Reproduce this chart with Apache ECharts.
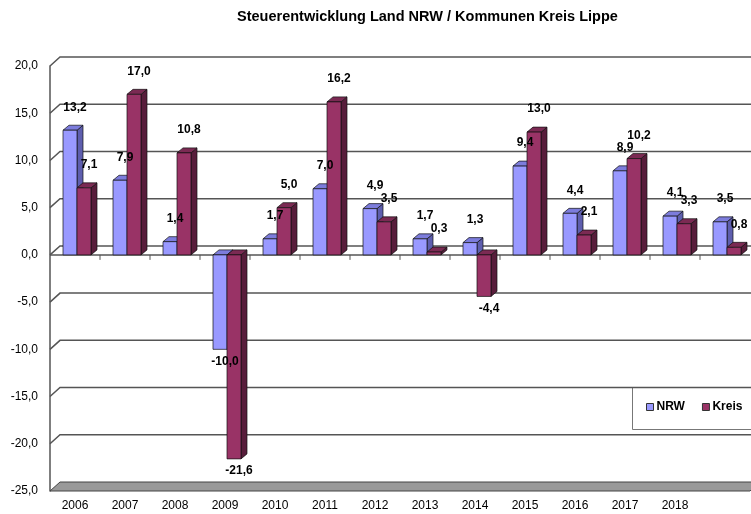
<!DOCTYPE html>
<html>
<head>
<meta charset="utf-8">
<script src="https://cdn.jsdelivr.net/npm/echarts@6/dist/echarts.min.js"></script>
<style>
  html, body { margin: 0; padding: 0; background: #fff; }
  #chart { width: 751px; height: 514px; }
</style>
</head>
<body>
<div id="chart"></div>
<script>
// data
const years = ['2006', '2007', '2008', '2009', '2010', '2011', '2012', '2013', '2014', '2015', '2016', '2017', '2018', ''];
const nrw   = [13.2, 7.9, 1.4, -10.0, 1.7, 7.0, 4.9, 1.7, 1.3, 9.4, 4.4, 8.9, 4.1, 3.5];
const kreis = [7.1, 17.0, 10.8, -21.6, 5.0, 16.2, 3.5, 0.3, -4.4, 13.0, 2.1, 10.2, 3.3, 0.8];
const yTicks = [-25, -20, -15, -10, -5, 0, 5, 10, 15, 20];

const DX = 10, DY = -9;   // depth of the wall
const BDX = 6, BDY = -5;  // depth of a bar
const FONT = '"Liberation Sans", Arial, sans-serif';
const fmt = v => v.toFixed(1).replace('.', ',');

const faces = [
  { front: '#9999FF', top: '#7C7CDC', side: '#5E5EAE' },
  { front: '#993366', top: '#7B2A53', side: '#581D3B' }
];

const chart = echarts.init(document.getElementById('chart'));

// back wall gridlines, floor and the front zero line
function renderFrame(params, api) {
  const cs = params.coordSys;
  const v = api.value(1);
  const y = api.coord([0, v])[1];
  const x0 = cs.x, x1 = cs.x + cs.width;
  const line = { stroke: '#555', lineWidth: 1.5 };
  const kids = [];
  if (v === yTicks[0]) {
    kids.push({
      type: 'polygon',
      shape: { points: [[x0, y], [x0 + DX, y + DY], [x1 + DX, y + DY], [x1, y]] },
      style: { fill: '#999', stroke: '#444', lineWidth: 1 }
    });
  } else {
    kids.push({ type: 'polyline', shape: { points: [[x0, y], [x0 + DX, y + DY], [x1 + DX, y + DY]] }, style: Object.assign({ fill: null }, line) });
  }
  if (v === 0) {
    kids.push({ type: 'line', shape: { x1: x0, y1: y, x2: x1, y2: y }, style: line });
    const band = api.size([1, 0])[0];
    for (let i = 1; i < years.length; i++) {
      const tx = x0 + i * band;
      kids.push({ type: 'line', shape: { x1: tx, y1: y, x2: tx, y2: y + 5 }, style: { stroke: '#555', lineWidth: 1 } });
    }
  }
  return { type: 'group', children: kids };
}

function barBox(s, api) {
  const i = api.value(0), v = api.value(1);
  const base = api.coord([i, 0]);
  const tip = api.coord([i, v]);
  const band = api.size([1, 0])[0];
  const w = band * 0.28;
  const xl = base[0] - band * 0.24 + s * w;
  return { v, xl, w, yt: Math.min(base[1], tip[1]), yb: Math.max(base[1], tip[1]) };
}

// 3d looking bars
function barRenderer(s) {
  return function (params, api) {
    const b = barBox(s, api);
    const c = faces[s];
    const edge = { stroke: '#111', lineWidth: 0.7 };
    const r = b.xl + b.w;
    return {
      type: 'group',
      children: [
        { type: 'polygon', shape: { points: [[r, b.yt], [r + BDX, b.yt + BDY], [r + BDX, b.yb + BDY], [r, b.yb]] }, style: Object.assign({ fill: c.side }, edge) },
        { type: 'polygon', shape: { points: [[b.xl, b.yt], [b.xl + BDX, b.yt + BDY], [r + BDX, b.yt + BDY], [r, b.yt]] }, style: Object.assign({ fill: c.top }, edge) },
        { type: 'rect', shape: { x: b.xl, y: b.yt, width: b.w, height: b.yb - b.yt }, style: Object.assign({ fill: c.front }, edge) }
      ]
    };
  };
}

// value labels, drawn above all bars
function labelRenderer(s) {
  return function (params, api) {
    const b = barBox(s, api);
    return {
      type: 'text',
      x: b.xl + b.w / 2 + 5,
      y: b.v >= 0 ? b.yt - 23 : b.yb + 12,
      style: { text: fmt(b.v), fill: '#000', font: 'bold 12px ' + FONT, align: 'center', verticalAlign: 'middle' }
    };
  };
}

chart.setOption({
  animation: false,
  graphic: [
    {
      type: 'text', left: 237, top: 9,
      style: { text: 'Steuerentwicklung Land NRW / Kommunen Kreis Lippe', fill: '#000', font: 'bold 14.5px ' + FONT }
    },
    {
      type: 'rect', left: 632, top: 387, z: 0,
      shape: { width: 130, height: 42 },
      style: { fill: '#fff', stroke: '#777', lineWidth: 1 }
    }
  ],
  legend: {
    data: ['NRW', 'Kreis'],
    left: 646,
    top: 401,
    padding: 0,
    itemWidth: 7,
    itemHeight: 7,
    itemGap: 17,
    icon: 'rect',
    itemStyle: { borderColor: '#333', borderWidth: 1 },
    textStyle: { fontFamily: FONT, fontSize: 12, fontWeight: 'bold', color: '#000', padding: [0, 0, 0, -2] }
  },
  grid: { left: 50, right: 1, top: 66, bottom: 23 },
  xAxis: {
    type: 'category',
    data: years,
    axisLine: { show: false, onZero: false },
    axisTick: { show: false },
    axisLabel: { interval: 0, margin: 9, fontFamily: FONT, fontSize: 12, color: '#000' },
    splitLine: { show: false }
  },
  yAxis: {
    type: 'value',
    min: -25,
    max: 20,
    interval: 5,
    axisLine: { show: true, lineStyle: { color: '#555', width: 1.5 } },
    axisTick: { show: false },
    splitLine: { show: false },
    axisLabel: { formatter: fmt, margin: 12, fontFamily: FONT, fontSize: 12, color: '#000' }
  },
  series: [
    {
      type: 'custom', name: 'frame', silent: true, z: 1,
      data: yTicks.map(v => [0, v]),
      encode: { x: 0, y: 1 },
      renderItem: renderFrame
    },
    {
      type: 'custom', name: 'NRW', z: 2,
      itemStyle: { color: faces[0].front },
      data: nrw.map((v, i) => [i, v]),
      encode: { x: 0, y: 1 },
      renderItem: barRenderer(0)
    },
    {
      type: 'custom', name: 'Kreis', z: 3,
      itemStyle: { color: faces[1].front },
      data: kreis.map((v, i) => [i, v]),
      encode: { x: 0, y: 1 },
      renderItem: barRenderer(1)
    },
    {
      type: 'custom', name: 'NRW', z: 4, silent: true,
      data: nrw.map((v, i) => [i, v]),
      encode: { x: 0, y: 1 },
      renderItem: labelRenderer(0)
    },
    {
      type: 'custom', name: 'Kreis', z: 4, silent: true,
      data: kreis.map((v, i) => [i, v]),
      encode: { x: 0, y: 1 },
      renderItem: labelRenderer(1)
    }
  ]
});
</script>
</body>
</html>
